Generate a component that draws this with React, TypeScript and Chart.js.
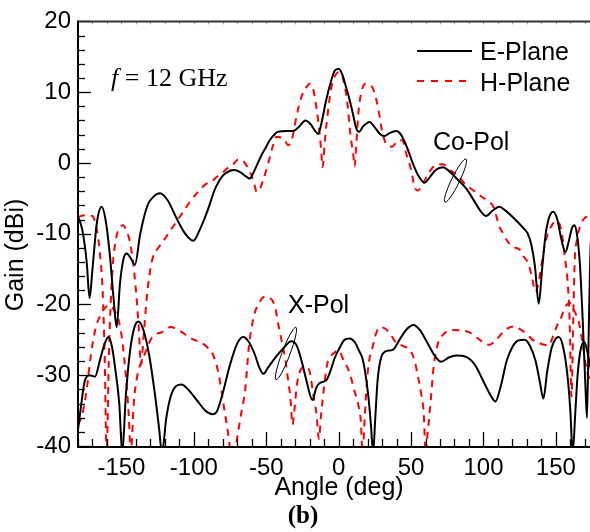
import React, { useEffect, useRef } from "react";
import { Chart, registerables } from "chart.js";

Chart.register(...registerables);

// ---- axis settings ----
const xMin = -180;
const xMax = 180;
const yMin = -40;
const yMax = 20;
const xTickValues = [-150, -100, -50, 0, 50, 100, 150];
const yTickValues = [-40, -30, -20, -10, 0, 10, 20];
const xMinorStep = 10;
const yMinorStep = 2;

// ---- E-Plane, Co-Pol ----
const eCoAngle = [
  -180, -177, -174, -172, -170, -167, -163.7, -161, -158, -155.5, -153.3, -151, -148.5, -146.4, -143.5,
  -140.7, -137, -132, -128, -123.4, -118, -112, -106, -100.4, -96, -91, -85, -80, -75, -71.7, -68, -64,
  -61.4, -58, -54, -50, -47.6, -44, -41.8, -36, -31.4, -27, -23, -19.5, -16.5, -14.2, -12, -9, -6, -2.8,
  0, 2.5, 5, 7.6, 10, 12, 14.1, 17, 21.4, 25, 28.5, 31.7, 35, 39.8, 43, 47, 51.3, 55, 59.3, 63, 67, 72,
  77, 82, 88, 94, 98, 101.9, 106, 111, 115, 120, 124.8, 128, 130.6, 133, 135.5, 138.2, 140.5, 143, 145.5,
  148.3, 151, 153.5, 156.6, 159, 161, 162.8, 164.5, 166.5, 168.5, 170.5, 171.5, 172.5, 173.8, 175,
];
const eCoGain = [
  -7.5, -9.5, -14, -19.1, -15, -8.5, -6.2, -8, -13, -19, -23.2, -17, -13.5, -12.8, -13.5,
  -14.4, -10, -6, -4.8, -4.3, -5.3, -7.8, -10, -11.0, -9.5, -7, -3.5, -1.8, -1.1, -1.0, -1.3, -1.9,
  -2.2, -1, 0.8, 2.3, 3.2, 4.1, 4.4, 4.5, 4.5, 5.2, 6.0, 5.5, 4.6, 4.1, 5.5, 8.5, 11, 13.0,
  13.3, 12.5, 10.8, 8.9, 6.8, 5, 4.4, 5.2, 5.8, 5, 4.1, 3.8, 4.2, 4.5, 4, 2.3, -0.1, -1.8, -2.8, -2, -1, -0.6,
  -1.3, -2.3, -3.6, -5.5, -6.8, -7.5, -6.8, -6.2, -6.7, -7.6, -8.6, -9.3, -10.0, -11.5, -14.5, -19.9, -15, -10, -7.6,
  -6.9, -8, -10.5, -12.6, -11, -9.3, -8.8, -10, -14, -22, -32, -36, -26, -13, -9,
];

// ---- E-Plane, X-Pol ----
const eXAngle = [
  -180, -178, -175.2, -172, -168.3, -165, -162, -159, -156.5, -154, -151.5, -149.4, -147, -144, -141,
  -138.4, -135, -131, -127, -124, -122, -119, -116, -112, -108.5, -104, -98, -92, -87, -84.3, -80, -75,
  -70, -66, -62, -58, -55, -52, -49, -45.2, -38.3, -32.6, -29, -25.7, -22.3, -18.1, -15.5, -13.1, -8.5,
  -5, -2.8, 1, 4, 7.6, 11, 14, 16.8, 20.3, 22.3, 23.8, 25.3, 27, 30.6, 35, 37.5, 42, 47, 51.7, 56, 61,
  66.2, 70.8, 76, 81.2, 88, 94, 99.6, 104, 108.3, 112, 116, 120, 124, 128.3, 132, 136, 139, 141.4, 144,
  147, 150, 152, 155, 158, 160, 161.6, 163.5, 165, 167, 169.5, 171, 173, 175,
];
const eXGain = [
  -37.7, -34.5, -30.7, -30, -30.2, -28, -25.8, -24.6, -26, -29.5, -34, -41, -33, -26.5, -23.2,
  -22.4, -23.5, -27, -32.5, -37.5, -41, -36, -33, -31.5, -31.3, -32, -33.5, -35, -35.5, -35.2, -32.5, -28.5,
  -25.5, -24.6, -25.3, -27, -28.8, -29.8, -29, -27.9, -26.2, -25.2, -25.8, -27.9, -30.7, -33.5, -31.8, -31.1, -30.7,
  -29, -27.6, -26, -25, -24.8, -25.3, -26.5, -27.9, -32.6, -37, -41, -36, -30.5, -26.9, -26.5, -26.4, -25, -23.5, -22.9, -23.6, -25.3,
  -27.2, -28.1, -27.5, -27.2, -27.4, -28.5, -30.7, -32.5, -33.7, -31.5, -28, -26, -25.1, -25, -25.8, -28, -31, -33.3, -29.5,
  -26.2, -24.8, -24.6, -26, -30, -35, -41, -35, -30, -26.5, -25.3, -26, -28, -30,
];

// ---- H-Plane, Co-Pol ----
const hCoAngle = [
  -180, -175, -170, -167, -165, -163, -161.5, -160.3, -158.5, -156.5, -154, -151.5, -149, -146.5, -144,
  -142, -140, -138, -136.5, -134.5, -132.5, -130, -127.5, -125.7, -121, -117.7, -113, -109.7, -106, -102.8,
  -98, -92.4, -87, -84.3, -80.9, -76, -72.4, -69.4, -66, -62.5, -59, -56.5, -54, -52.1, -48.7, -45.3, -43,
  -40, -37.2, -34.9, -33, -31.4, -29.2, -25.7, -22.3, -20, -17.7, -15.4, -13.1, -11.9, -11.2, -10.2, -9.7,
  -7.3, -5, -2.5, 0, 2.5, 4.5, 5.8, 8.1, 10.3, 11, 12, 13.8, 16.1, 18.4, 21, 24.1, 27.6, 29.9, 33.4, 36.8,
  41.4, 44, 46.7, 50.1, 52.4, 54.8, 58, 62, 67, 72, 77, 82, 88, 92.5, 97, 102.3, 106.9, 109, 111, 113.8,
  116, 120, 125.3, 128, 131, 133.5, 136, 138, 140, 142, 144.4, 146.7, 150, 152.5, 154.5, 156.3, 158, 159.5,
  160.8, 162, 163, 164.5, 166.7, 169, 172, 175,
];
const hCoGain = [
  -7.6, -7.4, -7.5, -9.5, -12.5, -18, -28, -41, -26, -16, -11, -9.3, -8.8, -9.6, -11.3,
  -14, -18, -23.5, -28.5, -24, -19, -15, -12.8, -12.3, -11, -10, -8.6, -7.6, -6.5, -5.5,
  -4.3, -3.1, -2.5, -2.0, -1.5, -0.6, -0.1, 0.5, 0.3, -0.8, -2.4, -4.1, -3.5, -2.4, -0.1, 2.5, 3.7,
  3.6, 3.2, 2.5, 2.9, 4.1, 6.5, 9.3, 10.7, 11.2, 10.5, 7.9, 4.1, 1.3, -0.6, 1, 2.7,
  7.4, 10.7, 12.3, 12.8, 12.3, 10.5, 8.9, 4.1, 0.8, -0.5, 2, 7.4, 10.3, 11.2, 11.1, 10.3, 7.4, 4.6, 2.5, 2.3,
  3.2, 3.2, 1.3, -1.0, -3.4, -3.9, -3, -1.5, -0.3, -0.2, -1, -1.8, -3.1, -3.8, -4.5, -5.3, -6.2, -7.6, -9, -10,
  -10.9, -11.8, -12.3, -13.3, -14.2, -16.2, -18.2, -17, -14.5, -12, -10, -9, -8.2, -8.6, -10.5, -13.5, -16.5, -22,
  -33, -22, -14, -10.9, -9.0, -8.0, -7.5, -7.2,
];

// ---- H-Plane, X-Pol ----
const hXAngle = [
  -180, -177, -174, -171, -168, -164.5, -161, -158.6, -155, -152, -149.5, -147, -145, -143.5, -141.5,
  -139, -136, -134.5, -131, -128.7, -122, -116, -110, -102, -95, -91, -87, -83, -79.3, -76, -74.5, -72,
  -70, -67.8, -64.3, -62, -58.6, -55, -51, -48, -44, -41.8, -39.5, -37, -35, -33.2, -31.9, -30.3, -29,
  -26.4, -23, -20, -17.7, -15.4, -13.6, -12.3, -10.3, -8, -5.7, -2.3, 0, 3.4, 6.9, 11.5, 13.8, 15.3, 16.5,
  18, 19.5, 21, 23, 26, 29, 32, 35, 40, 44, 50, 52.4, 54.8, 57, 58.8, 60, 61.5, 62.8, 64, 65.5, 68.6, 72,
  78, 85, 90, 95, 100, 104, 108, 111, 115, 121, 126, 130, 134, 138, 142, 145, 147.5, 150.6, 153, 156.3,
  159.8, 163, 166, 168.5, 171, 174,
];
const hXGain = [
  -37, -35.5, -32, -27, -23.5, -21.5, -20.4, -20.1, -20.8, -22.2, -25, -30, -35.5, -41, -34,
  -30, -28, -27.3, -25.5, -24.6, -23.9, -23.2, -23.7, -24.8, -25.4, -26, -27, -29.7, -34.4, -38.7, -41, -41,
  -38.7, -36, -31.6, -26, -21.7, -19.8, -18.9, -19, -20.3, -22.7, -25, -27.5, -30.5, -33.5, -37, -34.4, -31.6,
  -29.3, -28.8, -29.5, -32.5, -35.3, -39, -35.9, -32.1, -28.5, -27.4, -26.7, -26.5, -27.9, -29.3, -32.6, -34.4, -36.5, -41,
  -36, -31, -28, -26.4, -24, -23.2, -23.4, -24, -25.5, -25.8, -26.7, -27.9, -30.2, -32.6, -35.5, -41, -38, -35.4, -32.6, -29, -25.5, -24.3,
  -23.6, -23.7, -23.9, -24.6, -25.4, -25.7, -25.2, -24.5, -23.6, -23.1, -23.6, -24.2, -25, -25.4, -25.7, -25.8, -24.8, -23.1, -22.2, -20.4,
  -19.8, -21, -22.6, -25.5, -29, -31,
];

const legendLabels = ["E-Plane", "H-Plane"];
const seriesColors = ["#000000", "#ff0000"];

const toPoints = (xs: number[], ys: number[]) => xs.map((x, i) => ({ x, y: ys[i] }));

const SANS = '"Liberation Sans", Arial, Helvetica, sans-serif';
const SERIF = '"Liberation Serif", "Times New Roman", Times, serif';

const decorPlugin = {
  id: "decor",
  afterDraw(chart: any) {
    const ctx: CanvasRenderingContext2D = chart.ctx;
    const xs = chart.scales.x;
    const ys = chart.scales.y;
    const { left, right, top, bottom } = chart.chartArea;
    ctx.save();
    ctx.strokeStyle = "#000";
    ctx.lineCap = "butt";

    // y ticks (inward)
    ctx.lineWidth = 1.3;
    for (let v = yMin; v <= yMax; v += yMinorStep) {
      const py = Math.round(ys.getPixelForValue(v)) + 0.5;
      const major = yTickValues.includes(v);
      ctx.beginPath();
      ctx.moveTo(left, py);
      ctx.lineTo(left + (major ? 13 : 7), py);
      ctx.stroke();
    }
    // x ticks (inward, bottom) and tiny top ticks
    for (let v = xMin; v <= xMax; v += xMinorStep) {
      const px = Math.round(xs.getPixelForValue(v)) + 0.5;
      const major = xTickValues.includes(v);
      ctx.strokeStyle = "#000";
      ctx.lineWidth = 1.3;
      ctx.beginPath();
      ctx.moveTo(px, bottom);
      ctx.lineTo(px, bottom - (major ? 14 : 7));
      ctx.stroke();
      ctx.strokeStyle = "#999";
      ctx.lineWidth = 1;
      ctx.beginPath();
      ctx.moveTo(px, top);
      ctx.lineTo(px, top + 3);
      ctx.stroke();
    }

    // frame
    ctx.strokeStyle = "#000";
    ctx.lineWidth = 2;
    ctx.beginPath();
    ctx.moveTo(left, top - 1);
    ctx.lineTo(left, bottom + 1);
    ctx.lineTo(right, bottom + 1);
    ctx.stroke();
    ctx.strokeStyle = "#333";
    ctx.beginPath();
    ctx.moveTo(left, top);
    ctx.lineTo(right, top);
    ctx.stroke();

    // legend
    const legX0 = 417;
    const legX1 = 472;
    const legY = [51, 81];
    ctx.lineWidth = 2;
    ctx.strokeStyle = seriesColors[0];
    ctx.setLineDash([]);
    ctx.beginPath();
    ctx.moveTo(legX0, legY[0]);
    ctx.lineTo(legX1, legY[0]);
    ctx.stroke();
    ctx.strokeStyle = seriesColors[1];
    ctx.setLineDash([7, 7]);
    ctx.beginPath();
    ctx.moveTo(legX0, legY[1]);
    ctx.lineTo(legX1 - 6, legY[1]);
    ctx.stroke();
    ctx.setLineDash([]);
    ctx.fillStyle = "#000";
    ctx.font = `25px ${SANS}`;
    ctx.textAlign = "left";
    ctx.textBaseline = "alphabetic";
    ctx.fillText(legendLabels[0], 480, 60);
    ctx.fillText(legendLabels[1], 480, 90.5);

    // annotations
    ctx.fillText("Co-Pol", 433, 150);
    ctx.fillText("X-Pol", 288, 313);

    ctx.lineWidth = 1;
    ctx.strokeStyle = "#000";
    ctx.beginPath();
    ctx.ellipse(455.5, 180.5, 24, 4, (116 * Math.PI) / 180, 0, Math.PI * 2);
    ctx.stroke();
    ctx.beginPath();
    ctx.ellipse(286, 353.5, 28, 4, (110.7 * Math.PI) / 180, 0, Math.PI * 2);
    ctx.stroke();

    // frequency label
    ctx.font = `italic 26px ${SERIF}`;
    ctx.fillText("f", 111, 86);
    const fw = ctx.measureText("f").width;
    ctx.font = `26px ${SERIF}`;
    ctx.fillText(" = 12 GHz", 111 + fw, 86);

    // axis titles
    ctx.font = `25px ${SANS}`;
    ctx.textAlign = "center";
    ctx.fillText("Angle (deg)", 339, 495);
    ctx.save();
    ctx.translate(23, 255);
    ctx.rotate(-Math.PI / 2);
    ctx.fillText("Gain (dBi)", 0, 0);
    ctx.restore();

    // sub-figure label
    ctx.font = `bold 25px ${SERIF}`;
    ctx.fillText("(b)", 303, 523);
    ctx.restore();
  },
};

export default function App() {
  const canvasRef = useRef<HTMLCanvasElement | null>(null);

  useEffect(() => {
    const canvas = canvasRef.current;
    if (!canvas) return;
    const lineStyle = {
      pointRadius: 0,
      borderWidth: 2,
      cubicInterpolationMode: "monotone" as const,
      fill: false,
    };
    const chart = new Chart(canvas, {
      type: "line",
      data: {
        datasets: [
          { label: "E-Plane Co-Pol", data: toPoints(eCoAngle, eCoGain), borderColor: seriesColors[0], ...lineStyle },
          { label: "E-Plane X-Pol", data: toPoints(eXAngle, eXGain), borderColor: seriesColors[0], ...lineStyle },
          { label: "H-Plane Co-Pol", data: toPoints(hCoAngle, hCoGain), borderColor: seriesColors[1], borderDash: [7, 6], ...lineStyle },
          { label: "H-Plane X-Pol", data: toPoints(hXAngle, hXGain), borderColor: seriesColors[1], borderDash: [7, 6], ...lineStyle },
        ],
      },
      options: {
        animation: false,
        responsive: false,
        devicePixelRatio: 1,
        layout: { padding: { top: 21, right: 20.7, left: 0, bottom: 0 } },
        plugins: {
          legend: { display: false },
          tooltip: { enabled: false },
          title: { display: false },
        },
        scales: {
          x: {
            type: "linear",
            min: xMin,
            max: xMax,
            grid: { display: false, drawTicks: false },
            border: { display: false },
            afterBuildTicks: (scale: any) => {
              scale.ticks = xTickValues.map((v) => ({ value: v }));
            },
            afterFit: (scale: any) => {
              scale.height = 86;
            },
            ticks: {
              color: "#000",
              padding: 8,
              maxRotation: 0,
              autoSkip: false,
              font: { family: SANS, size: 24 },
              callback: (v: any) => String(v),
            },
          },
          y: {
            type: "linear",
            min: yMin,
            max: yMax,
            grid: { display: false, drawTicks: false },
            border: { display: false },
            afterBuildTicks: (scale: any) => {
              scale.ticks = yTickValues.map((v) => ({ value: v }));
            },
            afterFit: (scale: any) => {
              scale.width = 78;
            },
            ticks: {
              color: "#000",
              padding: 7,
              autoSkip: false,
              font: { family: SANS, size: 24 },
              callback: (v: any) => String(v),
            },
          },
        },
      },
      plugins: [decorPlugin],
    });
    return () => chart.destroy();
  }, []);

  return (
    <div style={{ position: "absolute", left: 0, top: 0, width: 590, height: 532, overflow: "hidden", background: "#fff" }}>
      <canvas ref={canvasRef} width={620} height={532} style={{ display: "block" }} />
    </div>
  );
}
